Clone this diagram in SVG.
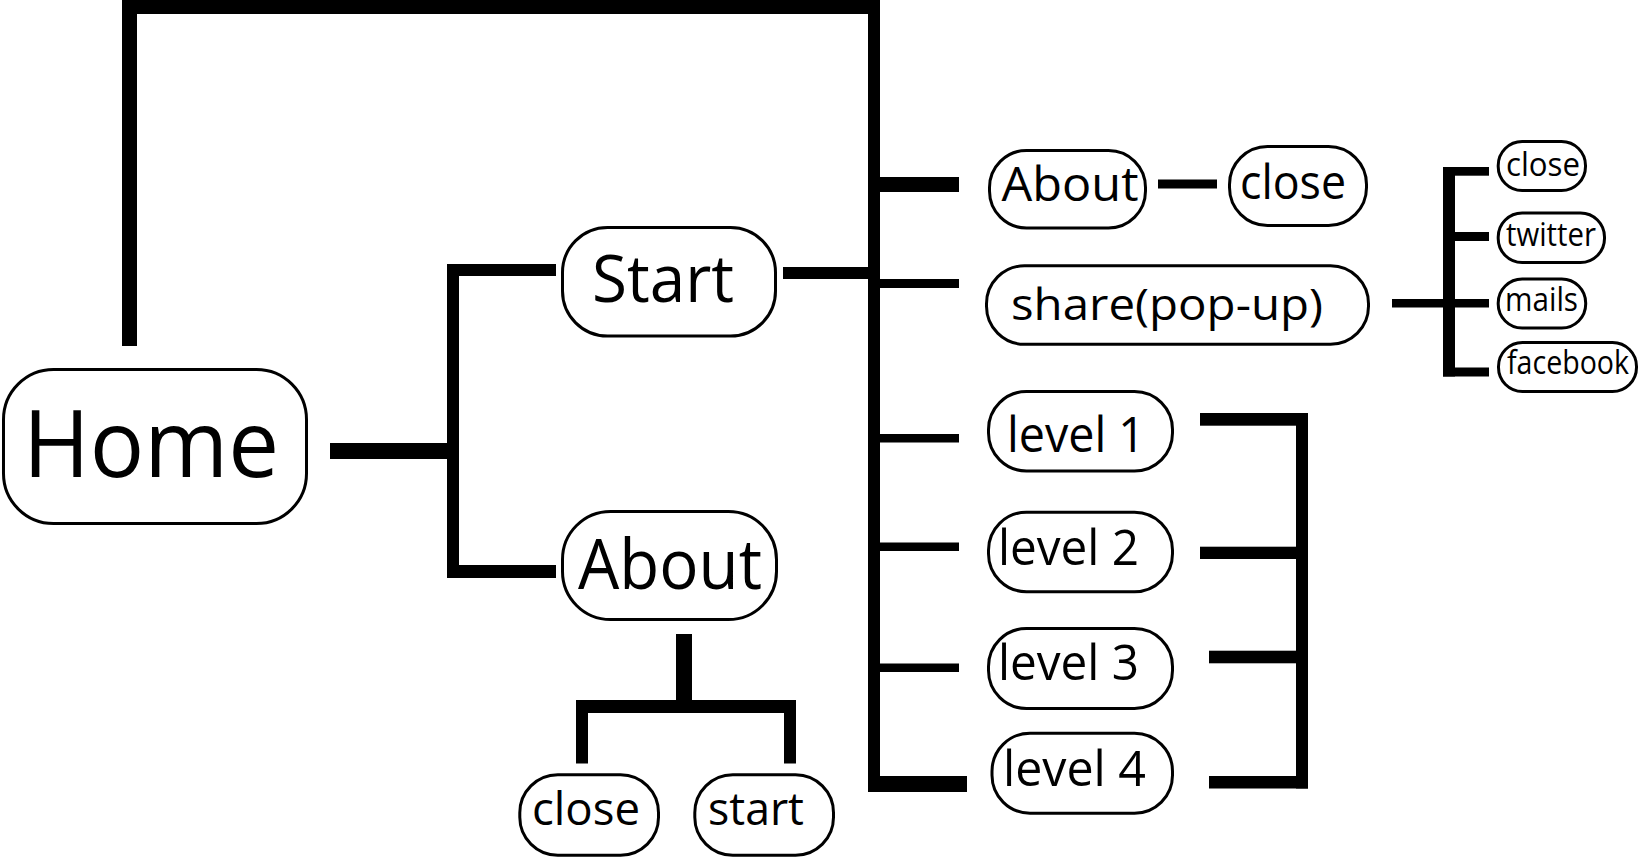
<svg xmlns="http://www.w3.org/2000/svg" width="1641" height="858" viewBox="0 0 1641 858">
<style>
.box{fill:#fff;stroke:#000;stroke-width:3}
.t{font-family:"Open Sans","Noto Sans","Liberation Sans",sans-serif;fill:#000}
.s{font-size:33px}
.c rect{fill:#000}
</style>
<rect width="1641" height="858" fill="#fff"/>
<g id="connectors" class="c">
<rect x="122" y="0" width="15" height="346"/>
<rect x="122" y="0" width="758" height="14"/>
<rect x="868" y="0" width="12" height="792"/>
<rect x="330" y="443" width="118" height="16"/>
<rect x="447" y="264" width="12" height="314"/>
<rect x="447" y="264" width="109" height="12"/>
<rect x="447" y="565" width="109" height="13"/>
<rect x="783" y="267" width="85" height="12"/>
<rect x="880" y="177" width="79" height="15"/>
<rect x="880" y="279" width="79" height="9"/>
<rect x="880" y="434" width="79" height="8.5"/>
<rect x="880" y="542.5" width="79" height="8.5"/>
<rect x="880" y="663.5" width="79" height="8.5"/>
<rect x="880" y="776" width="87" height="16"/>
<rect x="1158" y="179.5" width="59" height="9"/>
<rect x="1392" y="299" width="51" height="8.5"/>
<rect x="1443" y="167" width="12" height="209.5"/>
<rect x="1443" y="167" width="46" height="8.7"/>
<rect x="1455" y="232" width="34" height="9"/>
<rect x="1455" y="299" width="34" height="8.5"/>
<rect x="1443" y="367.5" width="46" height="9"/>
<rect x="1296" y="413" width="12" height="375.5"/>
<rect x="1200" y="413" width="108" height="12.7"/>
<rect x="1200" y="546.7" width="96" height="12.3"/>
<rect x="1209" y="650.7" width="87" height="12.6"/>
<rect x="1209" y="776" width="99" height="12.5"/>
<rect x="676" y="634" width="16" height="66"/>
<rect x="576" y="700" width="220" height="13"/>
<rect x="576" y="700" width="12" height="63.5"/>
<rect x="784" y="700" width="12" height="63.5"/>
</g>
<g id="home"><rect class="box" x="3.5" y="369.5" width="303" height="154" rx="50"/><text class="t" x="23" y="477.3" font-size="94" textLength="256" lengthAdjust="spacingAndGlyphs">Home</text></g>
<g id="start"><rect class="box" x="562.5" y="227.5" width="213" height="108.5" rx="45"/><text class="t" x="592" y="301.7" font-size="66" textLength="142" lengthAdjust="spacingAndGlyphs">Start</text></g>
<g id="about"><rect class="box" x="562.5" y="511.5" width="214" height="108" rx="48"/><text class="t" x="578" y="589.3" font-size="69" textLength="184" lengthAdjust="spacingAndGlyphs">About</text></g>
<g id="about-close"><rect class="box" x="519.8" y="774.8" width="138.7" height="80.4" rx="38"/><text class="t" x="532" y="825" font-size="46" textLength="108" lengthAdjust="spacingAndGlyphs">close</text></g>
<g id="about-start"><rect class="box" x="694.8" y="774.8" width="138.7" height="80.4" rx="38"/><text class="t" x="708" y="825" font-size="46" textLength="96" lengthAdjust="spacingAndGlyphs">start</text></g>
<g id="start-about"><rect class="box" x="989.5" y="150.5" width="156" height="77.5" rx="37"/><text class="t" x="1001.5" y="200.7" font-size="47" textLength="137" lengthAdjust="spacingAndGlyphs">About</text></g>
<g id="start-about-close"><rect class="box" x="1229.5" y="146.5" width="137" height="79" rx="38"/><text class="t" x="1240" y="199.3" font-size="47" textLength="106" lengthAdjust="spacingAndGlyphs">close</text></g>
<g id="share"><rect class="box" x="986.5" y="265.8" width="382" height="78.5" rx="38"/><text class="t" x="1011" y="320" font-size="44" textLength="312" lengthAdjust="spacingAndGlyphs">share(pop-up)</text></g>
<g id="share-close"><rect class="box" x="1498.2" y="141.5" width="87.3" height="49" rx="24"/><text class="t s" x="1506" y="176" textLength="74" lengthAdjust="spacingAndGlyphs">close</text></g>
<g id="share-twitter"><rect class="box" x="1498.2" y="213" width="106.3" height="49.5" rx="24"/><text class="t s" x="1506" y="245.5" textLength="90" lengthAdjust="spacingAndGlyphs">twitter</text></g>
<g id="share-mails"><rect class="box" x="1498.2" y="279" width="87.5" height="49" rx="24"/><text class="t s" x="1505" y="310.5" textLength="73" lengthAdjust="spacingAndGlyphs">mails</text></g>
<g id="share-facebook"><rect class="box" x="1498.5" y="342.5" width="138" height="49" rx="24"/><text class="t s" x="1507" y="374" textLength="122" lengthAdjust="spacingAndGlyphs">facebook</text></g>
<g id="level1"><rect class="box" x="988.5" y="391.5" width="184" height="79.5" rx="38"/><text class="t" x="1007" y="451.7" font-size="49" textLength="138" lengthAdjust="spacingAndGlyphs">level 1</text></g>
<g id="level2"><rect class="box" x="988.5" y="512.2" width="184" height="79.5" rx="38"/><text class="t" x="998" y="565" font-size="49" textLength="141" lengthAdjust="spacingAndGlyphs">level 2</text></g>
<g id="level3"><rect class="box" x="988.5" y="628.5" width="184" height="80" rx="38"/><text class="t" x="998" y="680" font-size="49" textLength="141" lengthAdjust="spacingAndGlyphs">level 3</text></g>
<g id="level4"><rect class="box" x="992" y="733.2" width="180.5" height="80" rx="38"/><text class="t" x="1003" y="786" font-size="49" textLength="143" lengthAdjust="spacingAndGlyphs">level 4</text></g>
</svg>
